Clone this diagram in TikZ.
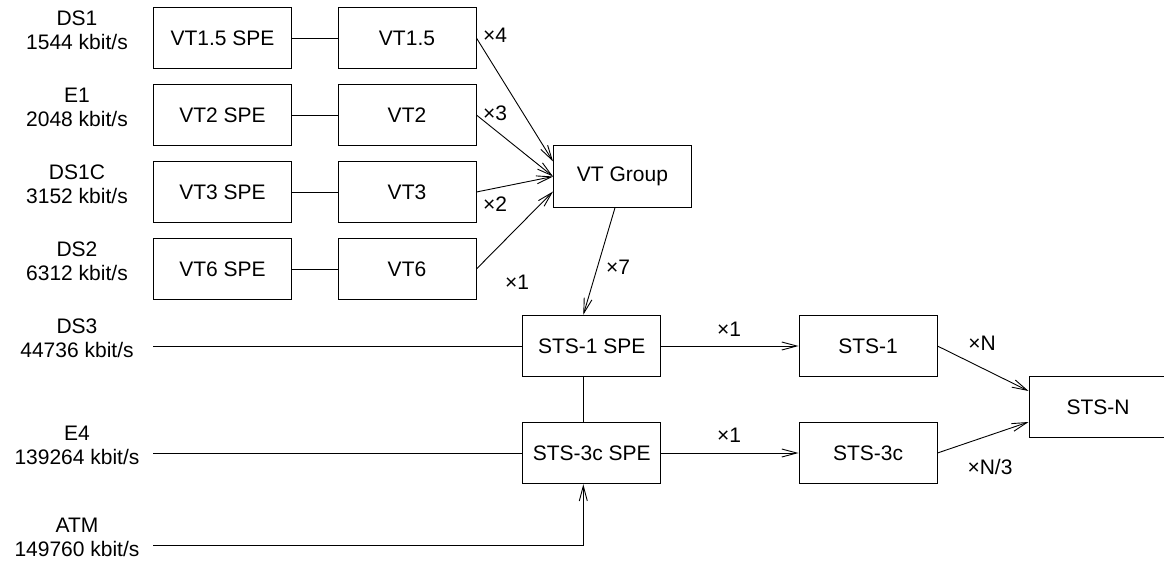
\documentclass[tikz,border=0pt]{standalone}
\usepackage{fontspec}
\setmainfont{Liberation Sans}
\usetikzlibrary{arrows.meta,calc}
\begin{document}
\begin{tikzpicture}[x=1pt,y=-1pt,
  every node/.style={font=\fontsize{21}{24}\selectfont},
  blk/.style={draw,line width=0.9pt,minimum width=138pt,minimum height=61.5pt,inner sep=0pt},
  lbl/.style={align=center,inner sep=0pt},
  mul/.style={inner sep=0pt},
  conn/.style={line width=0.9pt},
  arr/.style={line width=0.9pt,-{Straight Barb[length=15pt,width=8pt,line width=0.9pt]}}]
\useasboundingbox (0,0) rectangle (1164,563);
% left labels
\node[lbl] (lds1) at (77,30) {DS1\\1544 kbit/s};
\node[lbl] (le1) at (77,107) {E1\\2048 kbit/s};
\node[lbl] (lds1c) at (77,184) {DS1C\\3152 kbit/s};
\node[lbl] (lds2) at (77,261) {DS2\\6312 kbit/s};
\node[lbl] (lds3) at (77,338) {DS3\\44736 kbit/s};
\node[lbl] (le4) at (77,445) {E4\\139264 kbit/s};
\node[lbl] (latm) at (77,537) {ATM\\149760 kbit/s};
% VT boxes
\node[blk] (s15) at (222.5,38) {VT1.5 SPE};
\node[blk] (v15) at (407,38) {VT1.5};
\node[blk] (s2) at (222.5,115) {VT2 SPE};
\node[blk] (v2) at (407,115) {VT2};
\node[blk] (s3) at (222.5,192) {VT3 SPE};
\node[blk] (v3) at (407,192) {VT3};
\node[blk] (s6) at (222.5,269) {VT6 SPE};
\node[blk] (v6) at (407,269) {VT6};
\node[blk] (vg) at (622.5,176.5) {VT Group};
\node[blk] (sspe1) at (591.7,346) {STS-1 SPE};
\node[blk] (sspe3) at (591.7,453) {STS-3c SPE};
\node[blk] (sts1) at (868,346) {STS-1};
\node[blk] (sts3) at (868,453) {STS-3c};
\node[blk,minimum width=142pt] (stsn) at (1100,407) {\hspace*{-4pt}STS-N};
% input line starts
\coordinate (ids3) at (153,346);
\coordinate (ie4) at (153,453);
\coordinate (iatm) at (153,545);
% connectors
\draw[conn] (s15) -- (v15);
\draw[conn] (s2) -- (v2);
\draw[conn] (s3) -- (v3);
\draw[conn] (s6) -- (v6);
\draw[arr] (v15.east) -- ($(vg.west)+(0,-15)$);
\draw[arr] (v2.east) -- (vg.west);
\draw[arr] (v3.east) -- (vg.west);
\draw[arr] (v6.east) -- ($(vg.west)+(0,15)$);
\draw[arr] ($(vg.south)+(-7.5,0)$) -- ($(sspe1.north)+(-8.4,0)$);
\draw[conn] ($(sspe1.south)+(-8.4,0)$) -- ($(sspe3.north)+(-8.4,0)$);
\draw[conn] (ids3) -- (sspe1.west);
\draw[conn] (ie4) -- (sspe3.west);
\draw[arr] (iatm) -| ($(sspe3.south)+(-8.4,0)$);
\draw[arr] (sspe1.east) -- (sts1.west);
\draw[arr] (sspe3.east) -- (sts3.west);
\draw[arr] (sts1.east) -- ($(stsn.west)+(0,-16)$);
\draw[arr] (sts3.east) -- ($(stsn.west)+(0,15)$);
% multiplicity labels
\node[mul] (m4) at (495,35) {×4};
\node[mul] (m3) at (495,113) {×3};
\node[mul] (m2) at (495,204) {×2};
\node[mul] (m1a) at (517,282) {×1};
\node[mul] (m7) at (618,267) {×7};
\node[mul] (m1b) at (729,329) {×1};
\node[mul] (m1c) at (729,435) {×1};
\node[mul] (mn) at (982,343) {×N};
\node[mul] (mn3) at (990,467) {×N/3};
\end{tikzpicture}
\end{document}
